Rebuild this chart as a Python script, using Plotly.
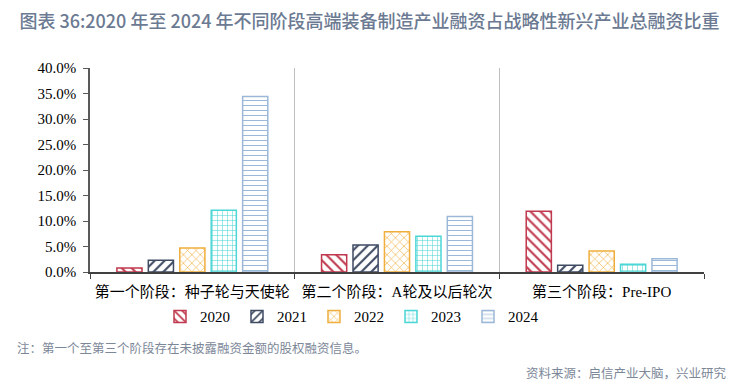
import plotly.graph_objects as go

categories = ["第一个阶段：种子轮与天使轮", "第二个阶段：A轮及以后轮次", "第三个阶段：Pre-IPO"]
years = ["2020", "2021", "2022", "2023", "2024"]
v2020 = [0.008, 0.034, 0.119]
v2021 = [0.023, 0.053, 0.013]
v2022 = [0.047, 0.079, 0.041]
v2023 = [0.121, 0.070, 0.015]
v2024 = [0.344, 0.109, 0.026]
series = [v2020, v2021, v2022, v2023, v2024]
y_ticks = [0, 0.05, 0.10, 0.15, 0.20, 0.25, 0.30, 0.35, 0.40]

colors = ["#C0394E", "#3F4B63", "#F0AE3C", "#4DD6D6", "#9BB8D8"]
shapes = ["\\", "/", "x", "+", "-"]
psizes = [7, 7, 6, 5, 5]
solid = [0.3, 0.3, 0.2, 0.2, 0.2]

num_font = "Liberation Serif, Noto Sans CJK SC"
cjk_font = "Noto Sans CJK SC"

fig = go.Figure()
for name, vals, c, s, ps, so in zip(years, series, colors, shapes, psizes, solid):
    fig.add_trace(go.Bar(
        x=categories, y=vals, name=name,
        marker=dict(
            color="white",
            line=dict(color=c, width=1.5),
            pattern=dict(shape=s, fgcolor=c, bgcolor="white", fillmode="replace",
                         size=ps, solidity=so),
        ),
    ))

fig.update_layout(
    width=746, height=384,
    margin=dict(l=90, r=42, t=68, b=112, autoexpand=False),
    paper_bgcolor="white", plot_bgcolor="white",
    barmode="group", bargap=0.232, bargroupgap=0.2,
    title=dict(
        text="图表 36:2020 年至 2024 年不同阶段高端装备制造产业融资占战略性新兴产业总融资比重",
        x=0.026, xanchor="left", y=0.944, yanchor="middle",
        font=dict(family=cjk_font, size=18, color="#6B7A92", weight=500),
    ),
    showlegend=True,
    legend=dict(
        orientation="h", x=0.114, xanchor="left", y=-0.219, yanchor="middle",
        font=dict(family=num_font, size=15, color="#000000"),
        entrywidth=32, entrywidthmode="pixels",
        traceorder="normal",
    ),
    xaxis=dict(
        type="category",
        showline=True, linecolor="#404040", linewidth=1.5,
        ticks="outside", tickson="boundaries", ticklen=5, tickcolor="#404040",
        showgrid=True, gridcolor="#BFBFBF", gridwidth=1,
        tickfont=dict(family=num_font, size=15, color="#000000"),
        ticklabelstandoff=5,
        fixedrange=True,
    ),
    yaxis=dict(
        range=[0, 0.40], tickvals=y_ticks, tickformat=".1%",
        showline=True, linecolor="#595959", linewidth=1.5,
        ticks="outside", ticklen=5, tickcolor="#595959",
        showgrid=False, zeroline=False,
        tickfont=dict(family=num_font, size=15, color="#000000"),
        ticklabelstandoff=4,
        fixedrange=True,
    ),
    annotations=[
        dict(text="注：第一个至第三个阶段存在未披露融资金额的股权融资信息。",
             xref="paper", yref="paper", x=-0.1221, y=-0.37, xanchor="left", yanchor="middle",
             showarrow=False, font=dict(family=cjk_font, size=12.5, color="#7C8798")),
        dict(text="资料来源：启信产业大脑，兴业研究",
             xref="paper", yref="paper", x=1.041, y=-0.495, xanchor="right", yanchor="middle",
             showarrow=False, font=dict(family=cjk_font, size=12.5, color="#7C8798")),
    ],
)

fig.write_html("out.html", config={"displayModeBar": False},
               post_script="document.body.style.margin='0';")
